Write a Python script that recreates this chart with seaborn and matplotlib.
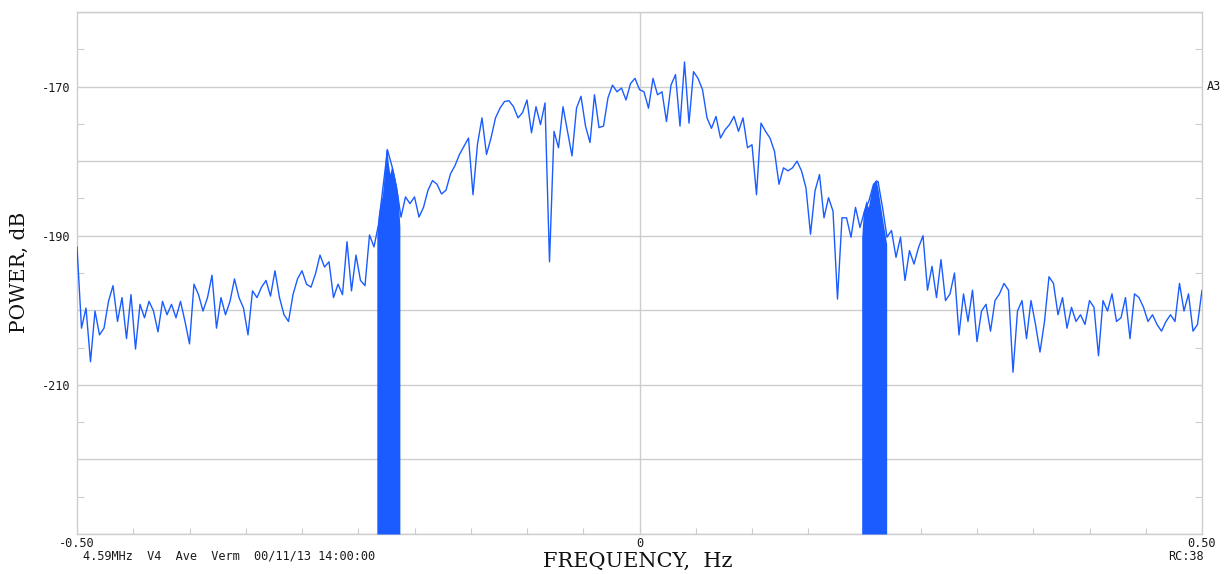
import numpy as np
import pandas as pd
import matplotlib
matplotlib.use("Agg")
import matplotlib.pyplot as plt
import seaborn as sns
from matplotlib.ticker import FixedLocator, FixedFormatter

# ---------------- data ----------------
freq = np.linspace(-0.5, 0.5, 251)
power_db = [
    -191.5, -202.4, -199.7, -206.9, -200.1, -203.3, -202.4, -198.8, -196.7, -201.5,
    -198.3, -203.8, -197.9, -205.2, -199.2, -201.0, -198.8, -200.1, -202.9, -198.8,
    -200.6, -199.2, -201.0, -198.8, -201.5, -204.5, -196.5, -197.9, -200.1, -198.3,
    -195.3, -202.4, -198.3, -200.6, -198.8, -195.8, -198.3, -199.7, -203.3, -197.4,
    -198.3, -196.9, -196.0, -198.1, -194.7, -198.3, -200.6, -201.5, -197.9, -195.8,
    -194.7, -196.5, -196.9, -195.1, -192.6, -194.2, -193.5, -198.3, -196.5, -197.9,
    -190.8, -197.4, -192.6, -196.0, -196.7, -189.9, -191.5, -188.5, -183.5, -178.5,
    -180.7, -183.5, -187.5, -184.8, -185.7, -184.8, -187.5, -186.2, -183.9, -182.6,
    -183.1, -184.4, -183.9, -181.7, -180.6, -179.1, -178.0, -176.9, -184.5, -177.7,
    -174.2, -179.1, -176.9, -174.2, -172.9, -172.0, -171.9, -172.7, -174.2, -173.5,
    -171.8, -176.2, -172.7, -175.1, -172.2, -193.5, -176.0, -178.2, -172.7, -176.0,
    -179.3, -172.9, -171.3, -175.3, -177.5, -171.1, -175.5, -175.3, -171.5, -169.8,
    -170.7, -170.2, -171.8, -169.6, -168.9, -170.4, -170.7, -172.9, -168.9, -171.1,
    -170.7, -174.7, -169.8, -168.4, -175.3, -166.7, -174.9, -168.0, -168.9, -170.4,
    -174.2, -175.6, -174.0, -176.9, -175.8, -175.1, -174.0, -176.0, -174.2, -178.2,
    -177.8, -184.5, -174.9, -176.0, -176.9, -178.7, -183.1, -180.9, -181.3, -180.9,
    -180.0, -181.3, -183.6, -189.8, -184.0, -181.8, -187.6, -184.9, -186.7, -198.5,
    -187.6, -187.6, -190.2, -186.2, -188.9, -186.7, -185.3, -183.1, -182.7, -186.2,
    -190.2, -189.3, -192.9, -190.2, -196.0, -192.0, -193.8, -191.6, -190.0, -197.3,
    -194.1, -198.3, -193.2, -198.7, -197.8, -195.0, -203.3, -197.8, -201.5, -197.3,
    -204.2, -200.1, -199.2, -202.8, -198.7, -197.8, -196.4, -197.3, -208.3, -200.1,
    -198.7, -203.8, -198.7, -201.9, -205.6, -201.5, -195.5, -196.4, -200.6, -198.3,
    -202.4, -199.6, -201.5, -200.6, -201.9, -198.7, -199.6, -206.1, -198.7, -200.1,
    -197.8, -201.5, -201.0, -198.3, -203.8, -197.8, -198.3, -199.6, -201.5, -200.6,
    -201.9, -202.8, -201.5, -200.6, -201.5, -196.4, -200.1, -197.8, -202.8, -201.9,
    -197.3,
]

band1_freq = [-0.2335, -0.2320, -0.2300, -0.2285, -0.2270, -0.2255, -0.2245,
              -0.2235, -0.2220, -0.2200, -0.2185, -0.2165, -0.2145, -0.2130]
band1_db = [-190.0, -187.0, -185.5, -184.5, -182.0, -178.5, -178.2,
            -180.0, -181.7, -180.6, -181.5, -183.0, -184.8, -188.8]

band2_freq = [0.1975, 0.1990, 0.2013, 0.2034, 0.2055, 0.2078, 0.2102,
              0.2123, 0.2144, 0.2167, 0.2197]
band2_db = [-190.2, -186.7, -185.3, -186.2, -184.4, -182.9, -182.4,
            -184.0, -186.2, -188.4, -191.1]

y_grid = [-230, -220, -210, -200, -190, -180, -170, -160]
y_labels = ["", "", "-210", "", "-190", "", "-170", ""]
y_minor = [-225, -215, -205, -195, -185, -175, -165]
x_ticks = [-0.5, 0.0, 0.5]
x_labels = ["-0.50", "0", "0.50"]
x_minor = [-0.45, -0.40, -0.35, -0.30, -0.25, -0.20, -0.15, -0.10, -0.05,
           0.05, 0.10, 0.15, 0.20, 0.25, 0.30, 0.35, 0.40, 0.45]

info_text = "4.59MHz  V4  Ave  Verm  00/11/13 14:00:00"
rc_text = "RC:38"
trace_text = "A3"

# ---------------- plot ----------------
sns.set_style("white")
plt.rcParams['font.family'] = ['DejaVu Sans Mono']

W, H = 1228, 574
fig = plt.figure(figsize=(W / 100, H / 100), dpi=100)
ax = fig.add_axes([77 / W, 1 - 534 / H, (1202 - 77) / W, (534 - 12) / H])

blue = "#1a5cff"
grid_c = "#cdcdcd"
txt_c = "#1a1a1a"

df = pd.DataFrame({"freq": freq, "power": power_db})
sns.lineplot(data=df, x="freq", y="power", ax=ax, color=blue, lw=1.0,
             estimator=None, zorder=3)
ax.fill_between(band1_freq, band1_db, -230, color=blue, lw=0, zorder=3)
ax.fill_between(band2_freq, band2_db, -230, color=blue, lw=0, zorder=3)

ax.set_xlim(-0.5, 0.5)
ax.set_ylim(-230, -160)

ax.yaxis.set_major_locator(FixedLocator(y_grid))
ax.yaxis.set_major_formatter(FixedFormatter(y_labels))
ax.yaxis.set_minor_locator(FixedLocator(y_minor))
ax.xaxis.set_major_locator(FixedLocator(x_ticks))
ax.xaxis.set_major_formatter(FixedFormatter(x_labels))
ax.xaxis.set_minor_locator(FixedLocator(x_minor))

ax.grid(False)
for yv in y_grid:
    ax.axhline(yv, color=grid_c, lw=1.0, zorder=1)
ax.axvline(0.0, color=grid_c, lw=1.0, zorder=1)

ax.tick_params(axis="y", which="major", length=0, pad=5, labelsize=8.6,
               labelcolor=txt_c)
ax.tick_params(axis="y", which="minor", direction="in", length=5, width=0.8,
               color=grid_c, left=True, right=True)
ax.tick_params(axis="x", which="major", length=0, pad=2, labelsize=8.6,
               labelcolor=txt_c)
ax.tick_params(axis="x", which="minor", direction="in", length=4, width=0.8,
               color=grid_c, bottom=True)

for s in ax.spines.values():
    s.set_color(grid_c)
    s.set_linewidth(1.0)

ax.set_xlabel("")
ax.set_ylabel("")

serif = ["DejaVu Serif"]
fig.text(19 / W, 1 - 272 / H, "POWER, dB", rotation=90, ha="center",
         va="center", fontsize=14.5, family=serif, color="#111111")
fig.text(638 / W, 1 - 561 / H, "FREQUENCY,  Hz", ha="center", va="center",
         fontsize=15, family=serif, color="#111111")
fig.text(83 / W, 1 - 556 / H, info_text, ha="left", va="center",
         fontsize=8.6, color=txt_c)
fig.text(1204 / W, 1 - 556 / H, rc_text, ha="right", va="center",
         fontsize=8.6, color=txt_c)
fig.text(1207 / W, 1 - 86 / H, trace_text, ha="left", va="center",
         fontsize=8.6, color=txt_c)

fig.savefig("out.png", dpi=100, facecolor="white")
